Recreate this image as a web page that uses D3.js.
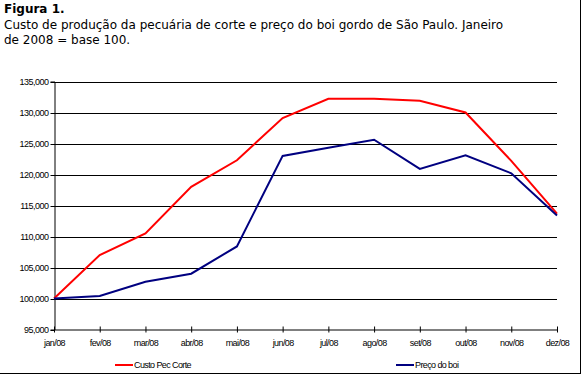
<!DOCTYPE html>
<html>
<head>
<meta charset="utf-8">
<script src="https://cdn.jsdelivr.net/npm/d3@7"></script>
<style>
  html, body { margin: 0; padding: 0; background: #fff; }
  svg { display: block; }
</style>
</head>
<body>
<svg id="chart" width="582" height="375"></svg>
<script>
const months = ["jan/08","fev/08","mar/08","abr/08","mai/08","jun/08","jul/08","ago/08","set/08","out/08","nov/08","dez/08"];
const custoPecCorte = [100.0, 107.0, 110.5, 118.0, 122.3, 129.1, 132.2, 132.2, 131.9, 130.0, 122.2, 113.7];
const precoDoBoi   = [100.0, 100.4, 102.7, 104.0, 108.4, 123.0, 124.3, 125.6, 120.9, 123.1, 120.2, 113.4];
const yTicks = [95, 100, 105, 110, 115, 120, 125, 130, 135];
const seriesNames = ["Custo Pec Corte", "Preço do boi"];
const seriesColors = ["#ff0000", "#000080"];

const svg = d3.select("#chart");

// Frame (right and bottom edges)
svg.append("line").attr("x1", 580.5).attr("x2", 580.5).attr("y1", 0).attr("y2", 373.5)
  .attr("stroke", "#000").attr("stroke-width", 1);
svg.append("line").attr("x1", 0).attr("x2", 581).attr("y1", 373.5).attr("y2", 373.5)
  .attr("stroke", "#000").attr("stroke-width", 1);

// Title
const title = svg.append("text").attr("font-family", "DejaVu Sans, Verdana, sans-serif")
  .attr("font-size", "12px").attr("fill", "#000");
title.append("tspan").attr("x", 4).attr("y", 13).attr("font-weight", "bold").text("Figura 1.");
title.append("tspan").attr("x", 4).attr("y", 28.5).text("Custo de produção da pecuária de corte e preço do boi gordo de São Paulo. Janeiro");
title.append("tspan").attr("x", 4).attr("y", 44).text("de 2008 = base 100.");

// Scales
const x = d3.scalePoint().domain(months).range([54, 557]);
const y = d3.scaleLinear().domain([95, 135]).range([329.5, 81.5]);

// Gridlines
svg.append("g").selectAll("line").data(yTicks.slice(1)).join("line")
  .attr("x1", 54).attr("x2", 557)
  .attr("y1", d => Math.round(y(d)) + 0.5).attr("y2", d => Math.round(y(d)) + 0.5)
  .attr("stroke", "#000").attr("stroke-width", 1);

const fmt = d => d3.format(",.0f")(d * 1000);

// Y axis
const yAxis = svg.append("g").attr("transform", "translate(54.5,0)")
  .call(d3.axisLeft(y).tickValues(yTicks).tickSize(4).tickFormat(fmt));
yAxis.select(".domain").attr("stroke", "#000");
yAxis.selectAll(".tick line").attr("stroke", "#000");
yAxis.selectAll(".tick text")
  .attr("font-family", "Liberation Sans, Arial, sans-serif").attr("font-size", "9px")
  .attr("letter-spacing", "-0.5px").attr("fill", "#000").attr("x", -6);
yAxis.selectAll(".tick").attr("transform", d => `translate(0,${Math.round(y(d)) + 0.5})`);

// X axis
const xAxis = svg.append("g").attr("transform", "translate(0,329.5)")
  .call(d3.axisBottom(x).tickSize(0).tickPadding(0));
xAxis.select(".domain").attr("stroke", "#000");
xAxis.selectAll(".tick line").remove();
xAxis.selectAll(".tick").append("line").attr("y1", -3).attr("y2", 3).attr("stroke", "#000");
xAxis.selectAll(".tick text")
  .attr("font-family", "Liberation Sans, Arial, sans-serif").attr("font-size", "9px")
  .attr("letter-spacing", "-0.6px").attr("fill", "#000").attr("dy", null).attr("y", 16);

// Lines
const seriesData = [custoPecCorte, precoDoBoi];
const line = d3.line().x((d, i) => x(months[i])).y(d => y(d));
svg.append("g").selectAll("path").data(seriesData).join("path")
  .attr("d", d => line(d))
  .attr("fill", "none")
  .attr("stroke", (d, i) => seriesColors[i])
  .attr("stroke-width", 2);

// Legend
const legendX = [115, 396];
const legend = svg.append("g").selectAll("g").data(seriesNames).join("g")
  .attr("transform", (d, i) => `translate(${legendX[i]},365)`);
legend.append("line").attr("x1", 0).attr("x2", 18).attr("y1", 0).attr("y2", 0)
  .attr("stroke", (d, i) => seriesColors[i]).attr("stroke-width", 2);
legend.append("text").attr("x", 19).attr("y", 3)
  .attr("font-family", "Liberation Sans, Arial, sans-serif").attr("font-size", "9px")
  .attr("letter-spacing", "-0.6px").attr("fill", "#000")
  .text(d => d);
</script>
</body>
</html>
